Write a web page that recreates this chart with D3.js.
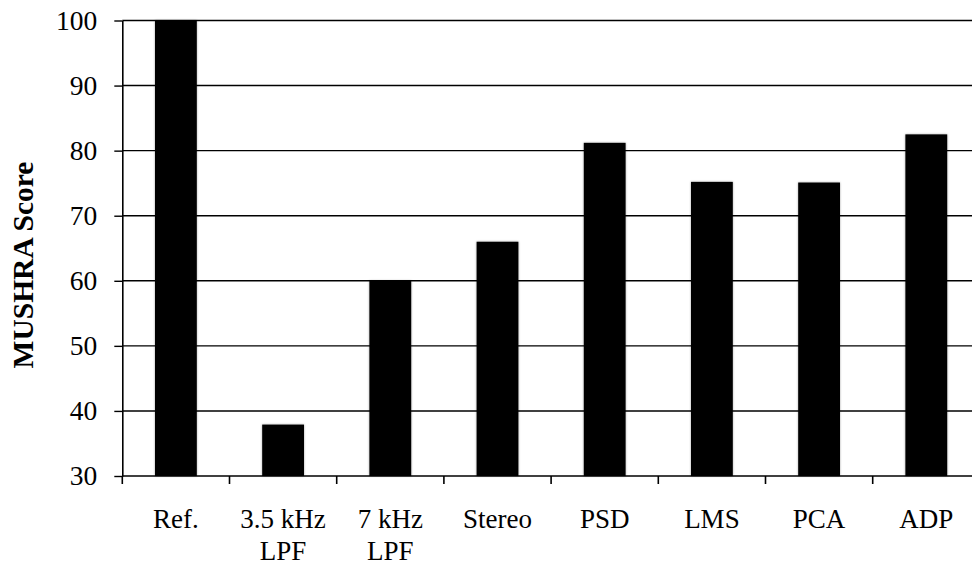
<!DOCTYPE html>
<html><head><meta charset="utf-8">
<script src="https://cdn.jsdelivr.net/npm/d3@7"></script>
<style>html,body{margin:0;padding:0;background:#fff;}svg{display:block;}</style>
</head><body>
<svg id="c" width="972" height="565"></svg>
<script>
const categories = ["Ref.", "3.5 kHz\nLPF", "7 kHz\nLPF", "Stereo", "PSD", "LMS", "PCA", "ADP"];
const scores = [100, 37.9, 60, 66.0, 81.2, 75.2, 75.1, 82.5];
const yTicks = [30, 40, 50, 60, 70, 80, 90, 100];
const yLabel = "MUSHRA Score";

(function () {
const svg = d3.select("#c");
const W = 972, H = 565;
const mLeft = 122.3, mTop = 20.5, mBottom = 476;
const step = 107.2;
const x = d3.scaleBand().domain(categories).range([mLeft, mLeft + step * categories.length]).padding(0);
const y = d3.scaleLinear().domain([30, 100]).range([mBottom, mTop]);
const font = "'Liberation Serif','Times New Roman',serif";

const defs = svg.append("defs");
const f = defs.append("filter").attr("id", "sh").attr("x", "-20%").attr("y", "-5%").attr("width", "140%").attr("height", "110%");
f.append("feDropShadow").attr("dx", 0).attr("dy", 0).attr("stdDeviation", 1.2).attr("flood-color", "#000").attr("flood-opacity", 0.35);

// gridlines
svg.append("g").selectAll("line").data(yTicks.filter(d => d > 30)).join("line")
  .attr("x1", mLeft).attr("x2", W).attr("y1", d => y(d)).attr("y2", d => y(d))
  .attr("stroke", "#000").attr("stroke-width", 1.4);

// bars
const bw = x.bandwidth() * 0.39;
svg.append("g").selectAll("rect").data(categories).join("rect")
  .attr("x", d => x(d) + (x.bandwidth() - bw) / 2)
  .attr("width", bw)
  .attr("y", (d, i) => y(scores[i]))
  .attr("height", (d, i) => mBottom - y(scores[i]))
  .attr("fill", "#000").attr("filter", "url(#sh)");

// y axis
const ya = svg.append("g").attr("transform", `translate(${mLeft},0)`)
  .call(d3.axisLeft(y).tickValues(yTicks).tickSize(8).tickPadding(17).tickSizeOuter(0));
ya.select(".domain").attr("stroke", "#000").attr("stroke-width", 1.6);
ya.selectAll(".tick line").attr("stroke", "#000").attr("stroke-width", 1.4);
ya.selectAll(".tick text").attr("font-family", font).attr("font-size", 27.5).attr("fill", "#000");

// x axis
const xa = svg.append("g").attr("transform", `translate(0,${mBottom})`);
xa.append("line").attr("x1", mLeft).attr("x2", W).attr("y1", 0).attr("y2", 0).attr("stroke", "#000").attr("stroke-width", 1.6);
const bounds = categories.map(c => x(c));
xa.selectAll("line.tk").data(bounds).join("line").attr("class", "tk")
  .attr("x1", d => d).attr("x2", d => d).attr("y1", 0).attr("y2", 8)
  .attr("stroke", "#000").attr("stroke-width", 1.6);
const lbl = xa.selectAll("text").data(categories).join("text")
  .attr("x", d => x(d) + x.bandwidth() / 2).attr("text-anchor", "middle")
  .attr("font-family", font).attr("font-size", 27).attr("fill", "#000");
lbl.each(function(d) {
  const lines = d.split("\n");
  d3.select(this).selectAll("tspan").data(lines).join("tspan")
    .attr("x", x(d) + x.bandwidth() / 2)
    .attr("y", (l, i) => 52 + i * 32)
    .text(l => l);
});

// y label
svg.append("text").attr("transform", `translate(33,${(160 + 370) / 2}) rotate(-90)`)
  .attr("text-anchor", "middle").attr("font-family", font).attr("font-weight", "bold")
  .attr("font-size", 29.5).attr("fill", "#000").text(yLabel);
})();
</script>
</body></html>
